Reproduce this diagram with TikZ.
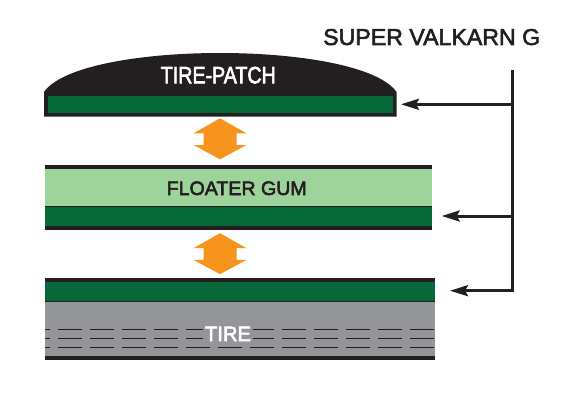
\documentclass[tikz,border=0pt]{standalone}
\usepackage{fontspec}
\setmainfont{Liberation Sans}
\newcommand\heavy[1]{\special{pdf:literal direct 2 Tr 0.55 w}#1\special{pdf:literal direct 0 Tr}}
\usetikzlibrary{arrows.meta}
\definecolor{ink}{HTML}{231F20}
\definecolor{dgreen}{HTML}{066838}
\definecolor{lgreen}{HTML}{9FD39C}
\definecolor{tiregray}{HTML}{939598}
\definecolor{orng}{HTML}{F7941D}
\begin{document}
\begin{tikzpicture}[x=1pt,y=-1pt,
  conn/.style={draw=ink, line width=3pt, -{Stealth[length=18pt,width=11pt,inset=3pt]}},
  lbl/.style={anchor=base, inner sep=0pt, font=\fontsize{19.5}{20}\selectfont},
  tread/.style={draw=ink, line width=1pt, dash pattern=on 23.3pt off 8.7pt, dash phase=18.7pt},
  dblarrow/.pic={\fill[orng] (0,-20.5) -- (26.5,-5.5) -- (16.5,-5.5) -- (16.5,6.2) -- (26.5,6.2) -- (0,20.5) -- (-26.5,6.2) -- (-16.5,6.2) -- (-16.5,-5.5) -- (-26.5,-5.5) -- cycle;}]
\useasboundingbox (0,0) rectangle (562,404);
% tire-patch
\fill[ink] (44,92) .. controls (80,40) and (360,40) .. (396.5,92) -- (396.5,116.5) -- (44,116.5) -- cycle;
\fill[dgreen] (48,96) rectangle (393,113);
\node[lbl, text=white] (patch) at (218.3,83.3) {\resizebox{115pt}{16.5pt}{\heavy{TIRE-PATCH}}};
% floater gum
\fill[ink] (45,165) rectangle (432,229.5);
\fill[lgreen] (45,169) rectangle (432,206);
\fill[dgreen] (45,207) rectangle (432,226);
\node[lbl, text=ink] (gum) at (236.7,195) {\resizebox{140pt}{13.6pt}{\heavy{FLOATER GUM}}};
% tire
\fill[ink] (45,278.3) rectangle (435,359.5);
\fill[dgreen] (45,282.3) rectangle (435,301);
\fill[tiregray] (45,302) rectangle (435,355.5);
\draw[tread] (45,329.3) -- (435,329.3);
\draw[tread] (45,338.3) -- (435,338.3);
\draw[tread] (45,347.3) -- (435,347.3);
\node[lbl, text=white, fill=tiregray, inner xsep=2pt, inner ysep=1.5pt] (tire) at (228,341) {\resizebox{46pt}{14.3pt}{\heavy{TIRE}}};
% orange double arrows
\pic (arrA) at (220,138.8) {dblarrow};
\pic (arrB) at (220,253.7) {dblarrow};
% title and connectors
\node[anchor=base, inner sep=0pt, text=ink, font=\fontsize{23}{24}\selectfont] (title) at (431.7,45) {\resizebox{217pt}{16pt}{\heavy{SUPER VALKARN G}}};
\coordinate (trunk) at (512.7,70);
\coordinate (j1) at (512.7,104.3);
\coordinate (j2) at (512.7,216);
\coordinate (j3) at (512.7,290.7);
\coordinate (t1) at (401,104.3);
\coordinate (t2) at (441.7,216);
\coordinate (t3) at (450,290.7);
\draw[conn] (trunk) -- (j3) -- (t3);
\draw[conn] (j1) -- (t1);
\draw[conn] (j2) -- (t2);
\end{tikzpicture}
\end{document}
